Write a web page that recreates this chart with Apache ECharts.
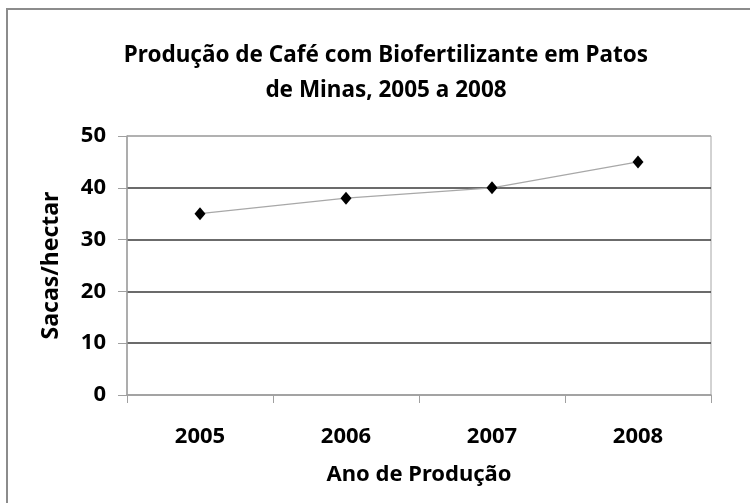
<!DOCTYPE html>
<html>
<head>
<meta charset="utf-8">
<script src="https://cdn.jsdelivr.net/npm/echarts@6/dist/echarts.min.js"></script>
<style>
  html, body { margin: 0; padding: 0; background: #fff; }
  #chart { width: 750px; height: 503px; }
</style>
</head>
<body>
<div id="chart"></div>
<script>
var categories = ['2005', '2006', '2007', '2008'];
var sacasPorHectar = [35, 38, 40, 45];
var titleLines = ['Produção de Café com Biofertilizante em Patos', 'de Minas, 2005 a 2008'];
var yAxisName = 'Sacas/hectar';
var xAxisName = 'Ano de Produção';

var FONT = 'Noto Sans';
var chart = echarts.init(document.getElementById('chart'), null, { renderer: 'canvas' });
chart.setOption({
  backgroundColor: '#fff',
  animation: false,
  title: {
    text: titleLines.join('\n'),
    left: 381,
    textAlign: 'center',
    top: 33,
    textStyle: { fontFamily: FONT, fontWeight: 'bold', fontSize: 22.5, color: '#000', lineHeight: 35 }
  },
  grid: {
    left: 127, right: 39, top: 136, bottom: 108,
    show: true, borderColor: '#a6a6a6', borderWidth: 1
  },
  xAxis: {
    type: 'category',
    data: categories,
    boundaryGap: true,
    name: xAxisName,
    nameLocation: 'middle',
    nameGap: 69,
    nameTextStyle: { fontFamily: FONT, fontWeight: 'bold', fontSize: 22, color: '#000' },
    axisLine: { show: true, lineStyle: { color: '#a0a0a0', width: 1.5 } },
    axisTick: { show: true, length: 8, alignWithLabel: false, lineStyle: { color: '#a0a0a0' } },
    axisLabel: { margin: 31, fontFamily: FONT, fontWeight: 'bold', fontSize: 22, color: '#000' },
    splitLine: { show: false }
  },
  yAxis: {
    type: 'value',
    min: 0, max: 50, interval: 10,
    name: yAxisName,
    nameLocation: 'middle',
    nameGap: 64,
    nameTextStyle: { fontFamily: FONT, fontWeight: 'bold', fontSize: 23, color: '#000' },
    axisLine: { show: true, lineStyle: { color: '#a0a0a0', width: 1.5 } },
    axisTick: { show: true, length: 9, lineStyle: { color: '#a0a0a0' } },
    axisLabel: { margin: 21, fontFamily: FONT, fontWeight: 'bold', fontSize: 22, color: '#000' },
    splitLine: { show: true, lineStyle: { color: ['#a0a0a0', '#3a3a3a', '#3a3a3a', '#3a3a3a', '#3a3a3a', '#a6a6a6'], width: 1.6 } }
  },
  series: [{
    type: 'line',
    data: sacasPorHectar,
    symbol: 'diamond',
    symbolSize: [11, 13],
    itemStyle: { color: '#000' },
    lineStyle: { color: '#a8a8a8', width: 1.2 }
  }],
  graphic: [
    { type: 'line', shape: { x1: 7, y1: 9, x2: 7, y2: 503 }, style: { stroke: '#8c8c8c', lineWidth: 2 } },
    { type: 'line', shape: { x1: 6, y1: 9, x2: 750, y2: 9 }, style: { stroke: '#8c8c8c', lineWidth: 2 } }
  ]
});
</script>
</body>
</html>
